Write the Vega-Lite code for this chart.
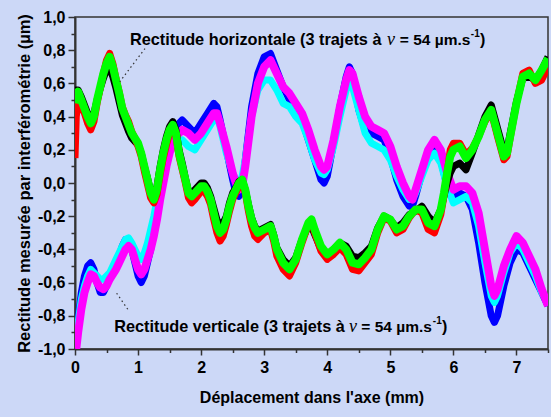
{
  "$schema": "https://vega.github.io/schema/vega-lite/v6.json",
  "width": 473,
  "height": 332,
  "autosize": {"type": "none"},
  "padding": {"left": 75, "top": 17, "right": 3, "bottom": 68},
  "background": "#CCD8F7",
  "config": {
    "view": {"stroke": "#333333", "strokeWidth": 1.5, "fill": "#CCD8F7"},
    "axis": {
      "grid": false,
      "labelFlush": false,
      "domainColor": "#333333",
      "domainWidth": 2,
      "tickColor": "#333333",
      "tickWidth": 1.5,
      "labelFont": "Liberation Sans",
      "labelFontWeight": "bold",
      "labelFontSize": 16,
      "labelColor": "#000000",
      "titleFont": "Liberation Sans",
      "titleFontWeight": "bold",
      "titleFontSize": 16,
      "titleColor": "#000000"
    }
  },
  "datasets": {
    "horiz": [
      {"x": 0.00, "g": 0.48, "r": 0.15, "k": 0.52},
      {"x": 0.02, "g": 0.52, "r": 0.40, "k": 0.56},
      {"x": 0.05, "g": 0.55, "r": 0.50, "k": 0.56},
      {"x": 0.10, "g": 0.50, "r": 0.46, "k": 0.52},
      {"x": 0.15, "g": 0.45, "r": 0.42, "k": 0.47},
      {"x": 0.20, "g": 0.40, "r": 0.36, "k": 0.42},
      {"x": 0.25, "g": 0.36, "r": 0.32, "k": 0.38},
      {"x": 0.30, "g": 0.40, "r": 0.37, "k": 0.42},
      {"x": 0.35, "g": 0.50, "r": 0.48, "k": 0.50},
      {"x": 0.40, "g": 0.58, "r": 0.57, "k": 0.57},
      {"x": 0.45, "g": 0.66, "r": 0.66, "k": 0.63},
      {"x": 0.50, "g": 0.72, "r": 0.74, "k": 0.68},
      {"x": 0.55, "g": 0.76, "r": 0.78, "k": 0.69},
      {"x": 0.60, "g": 0.70, "r": 0.72, "k": 0.64},
      {"x": 0.65, "g": 0.62, "r": 0.63, "k": 0.57},
      {"x": 0.70, "g": 0.54, "r": 0.55, "k": 0.49},
      {"x": 0.75, "g": 0.45, "r": 0.46, "k": 0.41},
      {"x": 0.80, "g": 0.40, "r": 0.41, "k": 0.36},
      {"x": 0.85, "g": 0.35, "r": 0.37, "k": 0.31},
      {"x": 0.90, "g": 0.30, "r": 0.31, "k": 0.27},
      {"x": 0.95, "g": 0.27, "r": 0.27, "k": 0.25},
      {"x": 1.00, "g": 0.24, "r": 0.22, "k": 0.23},
      {"x": 1.05, "g": 0.18, "r": 0.16, "k": 0.18},
      {"x": 1.10, "g": 0.10, "r": 0.07, "k": 0.10},
      {"x": 1.15, "g": 0.02, "r": -0.01, "k": 0.03},
      {"x": 1.20, "g": -0.06, "r": -0.09, "k": -0.05},
      {"x": 1.25, "g": -0.10, "r": -0.12, "k": -0.08},
      {"x": 1.30, "g": -0.04, "r": -0.07, "k": -0.02},
      {"x": 1.35, "g": 0.08, "r": 0.05, "k": 0.10},
      {"x": 1.40, "g": 0.18, "r": 0.15, "k": 0.20},
      {"x": 1.45, "g": 0.26, "r": 0.23, "k": 0.28},
      {"x": 1.50, "g": 0.32, "r": 0.30, "k": 0.34},
      {"x": 1.55, "g": 0.35, "r": 0.33, "k": 0.37},
      {"x": 1.60, "g": 0.30, "r": 0.28, "k": 0.32},
      {"x": 1.65, "g": 0.18, "r": 0.16, "k": 0.20},
      {"x": 1.70, "g": 0.10, "r": 0.08, "k": 0.12},
      {"x": 1.75, "g": 0.02, "r": 0.00, "k": 0.03},
      {"x": 1.80, "g": -0.06, "r": -0.09, "k": -0.05},
      {"x": 1.85, "g": -0.08, "r": -0.12, "k": -0.06},
      {"x": 1.90, "g": -0.06, "r": -0.10, "k": -0.04},
      {"x": 2.00, "g": -0.02, "r": -0.05, "k": 0.00},
      {"x": 2.05, "g": -0.02, "r": -0.05, "k": 0.00},
      {"x": 2.10, "g": -0.05, "r": -0.08, "k": -0.03},
      {"x": 2.15, "g": -0.10, "r": -0.13, "k": -0.08},
      {"x": 2.20, "g": -0.18, "r": -0.22, "k": -0.15},
      {"x": 2.25, "g": -0.26, "r": -0.30, "k": -0.22},
      {"x": 2.30, "g": -0.30, "r": -0.35, "k": -0.25},
      {"x": 2.35, "g": -0.28, "r": -0.32, "k": -0.24},
      {"x": 2.40, "g": -0.22, "r": -0.25, "k": -0.20},
      {"x": 2.45, "g": -0.14, "r": -0.17, "k": -0.12},
      {"x": 2.50, "g": -0.08, "r": -0.10, "k": -0.06},
      {"x": 2.55, "g": -0.04, "r": -0.06, "k": -0.03},
      {"x": 2.60, "g": 0.00, "r": -0.02, "k": 0.01},
      {"x": 2.65, "g": 0.02, "r": 0.01, "k": 0.02},
      {"x": 2.70, "g": -0.04, "r": -0.06, "k": -0.04},
      {"x": 2.75, "g": -0.14, "r": -0.17, "k": -0.13},
      {"x": 2.80, "g": -0.22, "r": -0.26, "k": -0.21},
      {"x": 2.85, "g": -0.27, "r": -0.32, "k": -0.26},
      {"x": 2.90, "g": -0.30, "r": -0.34, "k": -0.29},
      {"x": 3.00, "g": -0.28, "r": -0.30, "k": -0.27},
      {"x": 3.10, "g": -0.26, "r": -0.28, "k": -0.25},
      {"x": 3.15, "g": -0.32, "r": -0.35, "k": -0.31},
      {"x": 3.20, "g": -0.40, "r": -0.44, "k": -0.39},
      {"x": 3.30, "g": -0.48, "r": -0.52, "k": -0.46},
      {"x": 3.40, "g": -0.52, "r": -0.56, "k": -0.50},
      {"x": 3.50, "g": -0.46, "r": -0.48, "k": -0.45},
      {"x": 3.60, "g": -0.34, "r": -0.36, "k": -0.34},
      {"x": 3.70, "g": -0.24, "r": -0.25, "k": -0.26},
      {"x": 3.75, "g": -0.22, "r": -0.23, "k": -0.26},
      {"x": 3.80, "g": -0.28, "r": -0.30, "k": -0.31},
      {"x": 3.90, "g": -0.38, "r": -0.41, "k": -0.40},
      {"x": 4.00, "g": -0.43, "r": -0.46, "k": -0.44},
      {"x": 4.10, "g": -0.40, "r": -0.43, "k": -0.40},
      {"x": 4.20, "g": -0.36, "r": -0.39, "k": -0.36},
      {"x": 4.30, "g": -0.40, "r": -0.43, "k": -0.38},
      {"x": 4.40, "g": -0.48, "r": -0.52, "k": -0.44},
      {"x": 4.50, "g": -0.49, "r": -0.53, "k": -0.45},
      {"x": 4.60, "g": -0.45, "r": -0.48, "k": -0.42},
      {"x": 4.70, "g": -0.40, "r": -0.43, "k": -0.38},
      {"x": 4.80, "g": -0.28, "r": -0.30, "k": -0.27},
      {"x": 4.90, "g": -0.20, "r": -0.21, "k": -0.20},
      {"x": 5.00, "g": -0.22, "r": -0.23, "k": -0.22},
      {"x": 5.10, "g": -0.28, "r": -0.30, "k": -0.27},
      {"x": 5.20, "g": -0.26, "r": -0.28, "k": -0.24},
      {"x": 5.30, "g": -0.20, "r": -0.21, "k": -0.19},
      {"x": 5.40, "g": -0.16, "r": -0.16, "k": -0.17},
      {"x": 5.50, "g": -0.16, "r": -0.18, "k": -0.14},
      {"x": 5.60, "g": -0.24, "r": -0.28, "k": -0.20},
      {"x": 5.70, "g": -0.26, "r": -0.30, "k": -0.24},
      {"x": 5.80, "g": -0.16, "r": -0.19, "k": -0.16},
      {"x": 5.85, "g": -0.06, "r": -0.08, "k": -0.08},
      {"x": 5.90, "g": 0.06, "r": 0.06, "k": 0.00},
      {"x": 5.95, "g": 0.16, "r": 0.20, "k": 0.06},
      {"x": 6.00, "g": 0.20, "r": 0.24, "k": 0.10},
      {"x": 6.10, "g": 0.22, "r": 0.24, "k": 0.12},
      {"x": 6.20, "g": 0.15, "r": 0.17, "k": 0.08},
      {"x": 6.30, "g": 0.20, "r": 0.21, "k": 0.18},
      {"x": 6.40, "g": 0.28, "r": 0.28, "k": 0.29},
      {"x": 6.50, "g": 0.38, "r": 0.37, "k": 0.40},
      {"x": 6.60, "g": 0.44, "r": 0.43, "k": 0.47},
      {"x": 6.70, "g": 0.30, "r": 0.28, "k": 0.33},
      {"x": 6.80, "g": 0.16, "r": 0.14, "k": 0.19},
      {"x": 6.85, "g": 0.18, "r": 0.16, "k": 0.20},
      {"x": 6.90, "g": 0.28, "r": 0.27, "k": 0.30},
      {"x": 7.00, "g": 0.48, "r": 0.48, "k": 0.49},
      {"x": 7.10, "g": 0.64, "r": 0.66, "k": 0.63},
      {"x": 7.20, "g": 0.66, "r": 0.68, "k": 0.64},
      {"x": 7.30, "g": 0.62, "r": 0.60, "k": 0.62},
      {"x": 7.40, "g": 0.68, "r": 0.62, "k": 0.68},
      {"x": 7.50, "g": 0.75, "r": 0.70, "k": 0.76}
    ],
    "vert": [
      {"x": 0.02, "m": -1.00, "b": -0.96, "c": -0.94},
      {"x": 0.05, "m": -0.90, "b": -0.82, "c": -0.84},
      {"x": 0.10, "m": -0.76, "b": -0.66, "c": -0.70},
      {"x": 0.15, "m": -0.66, "b": -0.56, "c": -0.62},
      {"x": 0.20, "m": -0.60, "b": -0.50, "c": -0.56},
      {"x": 0.25, "m": -0.55, "b": -0.48, "c": -0.52},
      {"x": 0.30, "m": -0.56, "b": -0.52, "c": -0.54},
      {"x": 0.35, "m": -0.60, "b": -0.60, "c": -0.56},
      {"x": 0.40, "m": -0.63, "b": -0.66, "c": -0.58},
      {"x": 0.45, "m": -0.64, "b": -0.66, "c": -0.58},
      {"x": 0.50, "m": -0.62, "b": -0.62, "c": -0.56},
      {"x": 0.55, "m": -0.58, "b": -0.56, "c": -0.54},
      {"x": 0.60, "m": -0.55, "b": -0.52, "c": -0.50},
      {"x": 0.65, "m": -0.52, "b": -0.48, "c": -0.46},
      {"x": 0.70, "m": -0.48, "b": -0.44, "c": -0.42},
      {"x": 0.75, "m": -0.44, "b": -0.38, "c": -0.38},
      {"x": 0.80, "m": -0.40, "b": -0.34, "c": -0.34},
      {"x": 0.85, "m": -0.38, "b": -0.34, "c": -0.33},
      {"x": 0.90, "m": -0.40, "b": -0.40, "c": -0.36},
      {"x": 0.95, "m": -0.46, "b": -0.48, "c": -0.40},
      {"x": 1.00, "m": -0.52, "b": -0.56, "c": -0.44},
      {"x": 1.05, "m": -0.55, "b": -0.60, "c": -0.46},
      {"x": 1.10, "m": -0.52, "b": -0.56, "c": -0.42},
      {"x": 1.15, "m": -0.46, "b": -0.48, "c": -0.36},
      {"x": 1.20, "m": -0.40, "b": -0.40, "c": -0.28},
      {"x": 1.25, "m": -0.32, "b": -0.30, "c": -0.20},
      {"x": 1.30, "m": -0.22, "b": -0.20, "c": -0.10},
      {"x": 1.35, "m": -0.10, "b": -0.08, "c": 0.00},
      {"x": 1.40, "m": 0.00, "b": 0.04, "c": 0.08},
      {"x": 1.45, "m": 0.10, "b": 0.14, "c": 0.16},
      {"x": 1.50, "m": 0.18, "b": 0.22, "c": 0.20},
      {"x": 1.55, "m": 0.24, "b": 0.30, "c": 0.22},
      {"x": 1.60, "m": 0.28, "b": 0.34, "c": 0.24},
      {"x": 1.70, "m": 0.32, "b": 0.38, "c": 0.26},
      {"x": 1.80, "m": 0.30, "b": 0.34, "c": 0.22},
      {"x": 1.90, "m": 0.26, "b": 0.30, "c": 0.20},
      {"x": 2.00, "m": 0.30, "b": 0.36, "c": 0.26},
      {"x": 2.10, "m": 0.36, "b": 0.42, "c": 0.32},
      {"x": 2.20, "m": 0.42, "b": 0.48, "c": 0.38},
      {"x": 2.25, "m": 0.42, "b": 0.46, "c": 0.40},
      {"x": 2.30, "m": 0.36, "b": 0.38, "c": 0.34},
      {"x": 2.40, "m": 0.22, "b": 0.20, "c": 0.18},
      {"x": 2.50, "m": 0.06, "b": 0.02, "c": 0.06},
      {"x": 2.55, "m": 0.00, "b": -0.06, "c": 0.02},
      {"x": 2.60, "m": -0.04, "b": -0.08, "c": 0.00},
      {"x": 2.65, "m": -0.02, "b": -0.04, "c": 0.04},
      {"x": 2.70, "m": 0.10, "b": 0.14, "c": 0.14},
      {"x": 2.80, "m": 0.40, "b": 0.46, "c": 0.40},
      {"x": 2.90, "m": 0.60, "b": 0.66, "c": 0.56},
      {"x": 3.00, "m": 0.70, "b": 0.76, "c": 0.62},
      {"x": 3.10, "m": 0.74, "b": 0.78, "c": 0.62},
      {"x": 3.20, "m": 0.66, "b": 0.68, "c": 0.56},
      {"x": 3.30, "m": 0.58, "b": 0.58, "c": 0.48},
      {"x": 3.40, "m": 0.54, "b": 0.50, "c": 0.46},
      {"x": 3.50, "m": 0.48, "b": 0.44, "c": 0.40},
      {"x": 3.60, "m": 0.42, "b": 0.38, "c": 0.36},
      {"x": 3.70, "m": 0.32, "b": 0.26, "c": 0.26},
      {"x": 3.80, "m": 0.20, "b": 0.14, "c": 0.14},
      {"x": 3.90, "m": 0.10, "b": 0.02, "c": 0.06},
      {"x": 3.95, "m": 0.08, "b": 0.00, "c": 0.05},
      {"x": 4.00, "m": 0.10, "b": 0.04, "c": 0.08},
      {"x": 4.10, "m": 0.26, "b": 0.24, "c": 0.22},
      {"x": 4.20, "m": 0.46, "b": 0.46, "c": 0.40},
      {"x": 4.30, "m": 0.62, "b": 0.64, "c": 0.56},
      {"x": 4.35, "m": 0.68, "b": 0.70, "c": 0.60},
      {"x": 4.40, "m": 0.66, "b": 0.66, "c": 0.58},
      {"x": 4.50, "m": 0.52, "b": 0.44, "c": 0.44},
      {"x": 4.60, "m": 0.40, "b": 0.32, "c": 0.30},
      {"x": 4.70, "m": 0.34, "b": 0.30, "c": 0.24},
      {"x": 4.80, "m": 0.32, "b": 0.28, "c": 0.22},
      {"x": 4.90, "m": 0.30, "b": 0.26, "c": 0.20},
      {"x": 5.00, "m": 0.22, "b": 0.16, "c": 0.14},
      {"x": 5.10, "m": 0.10, "b": 0.02, "c": 0.04},
      {"x": 5.20, "m": 0.00, "b": -0.08, "c": -0.04},
      {"x": 5.30, "m": -0.08, "b": -0.14, "c": -0.10},
      {"x": 5.35, "m": -0.10, "b": -0.14, "c": -0.10},
      {"x": 5.40, "m": -0.04, "b": -0.08, "c": -0.06},
      {"x": 5.50, "m": 0.08, "b": 0.06, "c": 0.04},
      {"x": 5.60, "m": 0.20, "b": 0.16, "c": 0.14},
      {"x": 5.70, "m": 0.26, "b": 0.22, "c": 0.18},
      {"x": 5.80, "m": 0.20, "b": 0.14, "c": 0.12},
      {"x": 5.90, "m": 0.06, "b": -0.02, "c": -0.02},
      {"x": 6.00, "m": -0.04, "b": -0.10, "c": -0.12},
      {"x": 6.10, "m": -0.02, "b": -0.06, "c": -0.10},
      {"x": 6.20, "m": -0.02, "b": -0.08, "c": -0.08},
      {"x": 6.30, "m": -0.06, "b": -0.16, "c": -0.12},
      {"x": 6.40, "m": -0.18, "b": -0.36, "c": -0.26},
      {"x": 6.50, "m": -0.40, "b": -0.60, "c": -0.48},
      {"x": 6.60, "m": -0.62, "b": -0.80, "c": -0.68},
      {"x": 6.65, "m": -0.68, "b": -0.84, "c": -0.72},
      {"x": 6.70, "m": -0.64, "b": -0.80, "c": -0.68},
      {"x": 6.80, "m": -0.50, "b": -0.62, "c": -0.54},
      {"x": 6.90, "m": -0.40, "b": -0.48, "c": -0.42},
      {"x": 7.00, "m": -0.32, "b": -0.40, "c": -0.36},
      {"x": 7.10, "m": -0.36, "b": -0.42, "c": -0.40},
      {"x": 7.20, "m": -0.44, "b": -0.50, "c": -0.48},
      {"x": 7.30, "m": -0.52, "b": -0.58, "c": -0.56},
      {"x": 7.40, "m": -0.64, "b": -0.66, "c": -0.66},
      {"x": 7.50, "m": -0.74, "b": -0.74, "c": -0.72}
    ],
    "leaders": [
      {"x1": 1.11, "y1": 0.81, "x2": 0.71, "y2": 0.61},
      {"x1": 0.66, "y1": -0.664, "x2": 0.845, "y2": -0.765}
    ],
    "txtA": [
      {"tx": 4.86, "ty": 0.86, "t": "Rectitude horizontale (3 trajets à"},
      {"tx": 4.28, "ty": -0.866, "t": "Rectitude verticale (3 trajets à"}
    ],
    "txtV": [
      {"tx": 5.01, "ty": 0.86, "t": "v"},
      {"tx": 4.41, "ty": -0.866, "t": "v"}
    ],
    "txtB": [
      {"tx": 5.15, "ty": 0.86, "t": "= 54 µm.s"},
      {"tx": 4.54, "ty": -0.866, "t": "= 54 µm.s"}
    ],
    "txtSup": [
      {"tx": 6.276, "ty": 0.895, "t": "-1"},
      {"tx": 5.674, "ty": -0.83, "t": "-1"}
    ],
    "txtP": [
      {"tx": 6.42, "ty": 0.86, "t": ")"},
      {"tx": 5.82, "ty": -0.866, "t": ")"}
    ]
  },
  "resolve": {"axis": {"x": "independent", "y": "independent"}},
  "layer": [
    {
      "data": {"name": "vert"},
      "mark": {"type": "line", "color": "#0000FF", "strokeWidth": 7, "strokeJoin": "round", "clip": true},
      "encoding": {
        "x": {"field": "x", "type": "quantitative", "scale": {"domain": [0, 7.5], "nice": false, "zero": false},
          "axis": {"orient": "bottom", "values": [0, 1, 2, 3, 4, 5, 6, 7], "labelExpr": "format(datum.value, 'd')", "tickSize": 6, "labelPadding": 4, "title": "Déplacement dans l'axe (mm)", "titlePadding": 14}},
        "y": {"field": "b", "type": "quantitative", "scale": {"domain": [-1, 1], "nice": false, "zero": false},
          "axis": {"orient": "left", "values": [-1, -0.8, -0.6, -0.4, -0.2, 0, 0.2, 0.4, 0.6, 0.8, 1], "labelExpr": "replace(replace(format(datum.value, '.1f'), '.', ','), '\u2212', '-')", "tickSize": 7, "labelPadding": 3, "title": "Rectitude mesurée par interférométrie (µm)", "titleFontSize": 16.5, "titlePadding": 5}}
      }
    },
    {
      "data": {"name": "vert"},
      "mark": {"type": "line", "color": "#00FFFF", "strokeWidth": 7, "strokeJoin": "round", "clip": true},
      "encoding": {
        "x": {"field": "x", "type": "quantitative", "axis": null},
        "y": {"field": "c", "type": "quantitative", "axis": null}
      }
    },
    {
      "data": {"name": "vert"},
      "mark": {"type": "line", "color": "#FF00FF", "strokeWidth": 8, "strokeJoin": "round", "clip": true},
      "encoding": {
        "x": {"field": "x", "type": "quantitative", "axis": null},
        "y": {"field": "m", "type": "quantitative", "axis": null}
      }
    },
    {
      "data": {"name": "horiz"},
      "mark": {"type": "line", "color": "#000000", "strokeWidth": 7, "strokeJoin": "round", "clip": true},
      "encoding": {
        "x": {"field": "x", "type": "quantitative", "axis": null},
        "y": {"field": "k", "type": "quantitative", "axis": null}
      }
    },
    {
      "data": {"name": "horiz"},
      "mark": {"type": "line", "color": "#FF0000", "strokeWidth": 7, "strokeJoin": "round", "clip": true},
      "encoding": {
        "x": {"field": "x", "type": "quantitative", "axis": null},
        "y": {"field": "r", "type": "quantitative", "axis": null}
      }
    },
    {
      "data": {"name": "horiz"},
      "mark": {"type": "line", "color": "#00FF00", "strokeWidth": 8, "strokeJoin": "round", "clip": true},
      "encoding": {
        "x": {"field": "x", "type": "quantitative", "axis": null},
        "y": {"field": "g", "type": "quantitative", "axis": null}
      }
    },
    {
      "data": {"name": "leaders"},
      "mark": {"type": "rule", "color": "#333333", "strokeWidth": 1.2, "strokeDash": [1.5, 3]},
      "encoding": {
        "x": {"field": "x1", "type": "quantitative", "axis": {"orient": "bottom", "values": [0.5, 1.5, 2.5, 3.5, 4.5, 5.5, 6.5, 7.5], "labels": false, "domain": false, "tickSize": 3.5, "title": null}},
        "y": {"field": "y1", "type": "quantitative", "axis": {"orient": "left", "values": [-0.9, -0.7, -0.5, -0.3, -0.1, 0.1, 0.3, 0.5, 0.7, 0.9], "labels": false, "domain": false, "tickSize": 4, "title": null}},
        "x2": {"field": "x2"},
        "y2": {"field": "y2"}
      }
    },
    {
      "data": {"name": "txtA"},
      "mark": {"type": "text", "align": "right", "baseline": "middle", "font": "Liberation Sans", "fontWeight": "bold", "fontSize": 16.3, "color": "#000000"},
      "encoding": {
        "x": {"field": "tx", "type": "quantitative", "axis": null},
        "y": {"field": "ty", "type": "quantitative", "axis": null},
        "text": {"field": "t"}
      }
    },
    {
      "data": {"name": "txtV"},
      "mark": {"type": "text", "align": "center", "baseline": "middle", "font": "Liberation Serif", "fontStyle": "italic", "fontSize": 18, "color": "#000000"},
      "encoding": {
        "x": {"field": "tx", "type": "quantitative", "axis": null},
        "y": {"field": "ty", "type": "quantitative", "axis": null},
        "text": {"field": "t"}
      }
    },
    {
      "data": {"name": "txtB"},
      "mark": {"type": "text", "align": "left", "baseline": "middle", "font": "Liberation Sans", "fontWeight": "bold", "fontSize": 15.5, "color": "#000000"},
      "encoding": {
        "x": {"field": "tx", "type": "quantitative", "axis": null},
        "y": {"field": "ty", "type": "quantitative", "axis": null},
        "text": {"field": "t"}
      }
    },
    {
      "data": {"name": "txtSup"},
      "mark": {"type": "text", "align": "left", "baseline": "middle", "font": "Liberation Sans", "fontWeight": "bold", "fontSize": 10, "color": "#000000"},
      "encoding": {
        "x": {"field": "tx", "type": "quantitative", "axis": null},
        "y": {"field": "ty", "type": "quantitative", "axis": null},
        "text": {"field": "t"}
      }
    },
    {
      "data": {"name": "txtP"},
      "mark": {"type": "text", "align": "left", "baseline": "middle", "font": "Liberation Sans", "fontWeight": "bold", "fontSize": 16, "color": "#000000"},
      "encoding": {
        "x": {"field": "tx", "type": "quantitative", "axis": null},
        "y": {"field": "ty", "type": "quantitative", "axis": null},
        "text": {"field": "t"}
      }
    }
  ]
}
